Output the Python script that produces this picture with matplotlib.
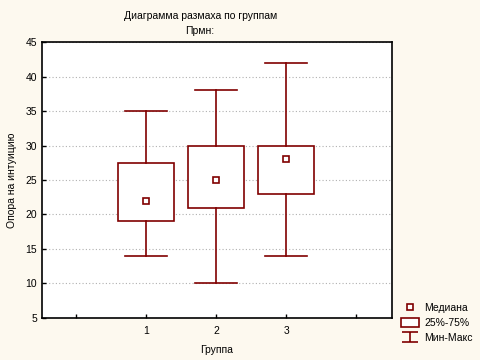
import numpy as np
import matplotlib
matplotlib.use('Agg')
import matplotlib.pyplot as plt
from matplotlib.path import Path
from matplotlib.lines import Line2D
from matplotlib.patches import Rectangle

groups = ['1', '2', '3']
positions = [1, 2, 3]
mins = [14, 10, 14]
q1 = [19, 21, 23]
medians = [22, 25, 28]
q3 = [27.5, 30, 30]
maxs = [35, 38, 42]

red = '#800000'
bg = '#fdf9ef'

plt.rcParams['font.family'] = ['Liberation Sans', 'DejaVu Sans']

fig = plt.figure(figsize=(4.8, 3.6), dpi=100, facecolor=bg)
ax = fig.add_axes([0.0875, 0.117, 0.729, 0.766])
ax.set_facecolor('white')

stats = []
for i in range(len(groups)):
    stats.append({'med': medians[i], 'q1': q1[i], 'q3': q3[i],
                  'whislo': mins[i], 'whishi': maxs[i], 'label': groups[i]})

ax.bxp(stats, positions=positions, widths=0.8, showfliers=False,
       patch_artist=True,
       boxprops=dict(facecolor='white', edgecolor=red, linewidth=1.2),
       whiskerprops=dict(color=red, linewidth=1.2),
       capprops=dict(color=red, linewidth=1.2),
       medianprops=dict(linewidth=0), capwidths=0.6, zorder=3)
ax.plot(positions, medians, linestyle='none', marker='s', markersize=4,
        markerfacecolor='white', markeredgecolor=red, markeredgewidth=1.2, zorder=4)

ax.set_xlim(-0.49, 4.51)
ax.set_ylim(5, 45)
ax.set_xticks([0, 1, 2, 3, 4])
ax.set_xticklabels(['', '1', '2', '3', ''])
ax.set_yticks(np.arange(5, 46, 5))
ax.tick_params(direction='in', length=3, labelsize=7.5, width=1)
ax.tick_params(axis='x', pad=6)
ax.grid(axis='y', color='#b0b0b0', linestyle=(0, (1, 2)), linewidth=0.8)
ax.set_axisbelow(True)
for s in ax.spines.values():
    s.set_linewidth(1.2)

ax.set_xlabel('Группа', fontsize=7.5, labelpad=6)
ax.set_ylabel('Опора на интуицию', fontsize=7.5, labelpad=6)
fig.text(0.417, 0.955, 'Диаграмма размаха по группам', ha='center', va='center', fontsize=7.5)
fig.text(0.417, 0.915, 'Прмн:', ha='center', va='center', fontsize=7.5)

ibeam = Path([(-1.6, 1), (1.6, 1), (0, 1), (0, -1), (-1.6, -1), (1.6, -1)],
             [Path.MOVETO, Path.LINETO, Path.MOVETO, Path.LINETO, Path.MOVETO, Path.LINETO])
handles = [
    Line2D([], [], linestyle='none', marker='s', markersize=4, markerfacecolor='white',
           markeredgecolor=red, markeredgewidth=1.2),
    Rectangle((0, 0), 1, 1, facecolor='white', edgecolor=red, linewidth=1.2),
    Line2D([], [], linestyle='none', marker=ibeam, markersize=12, markerfacecolor='none',
           markeredgecolor=red, markeredgewidth=1.2),
]
fig.legend(handles, ['Медиана', '25%-75%', 'Мин-Макс'], loc='lower left',
           bbox_to_anchor=(0.815, 0.02), frameon=False, fontsize=7.5,
           handlelength=1.8, handleheight=0.9, handletextpad=0.5, labelspacing=0.5)

fig.savefig('out.png', dpi=100, facecolor=bg)
